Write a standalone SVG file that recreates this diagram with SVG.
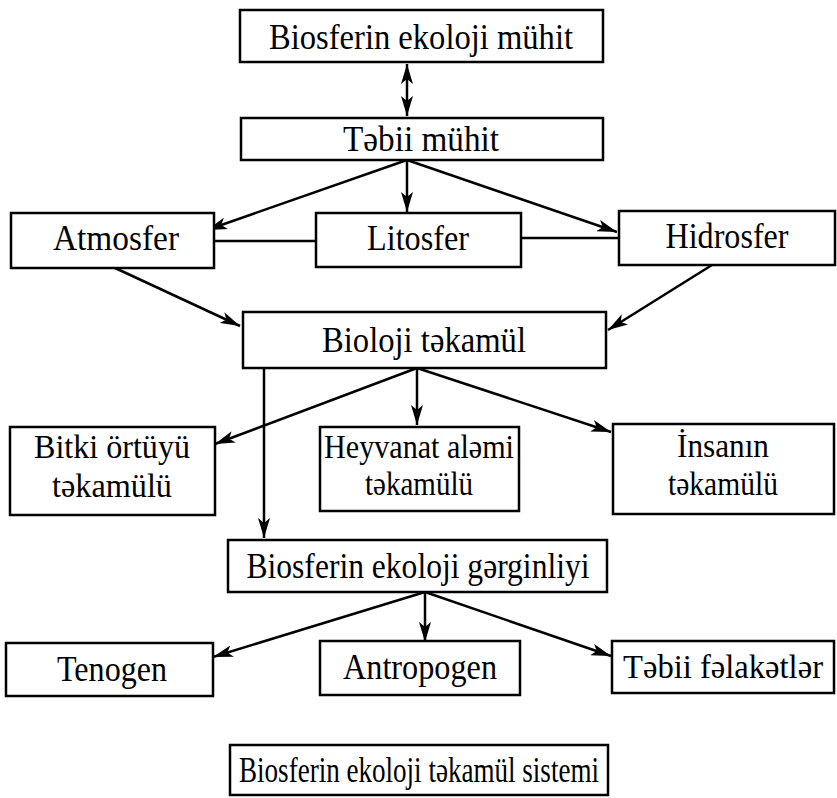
<svg xmlns="http://www.w3.org/2000/svg" width="837" height="798" viewBox="0 0 837 798">
<defs>
<marker id="ah" markerWidth="22" markerHeight="12" refX="20" refY="6" orient="auto" markerUnits="userSpaceOnUse">
<path d="M0,0 L20,6 L0,12 L5,6 Z" fill="#000"/>
</marker>
<marker id="ahs" markerWidth="22" markerHeight="12" refX="2" refY="6" orient="auto" markerUnits="userSpaceOnUse">
<path d="M22,0 L2,6 L22,12 L17,6 Z" fill="#000"/>
</marker>
</defs>
<style>
rect{fill:#fff;stroke:#000;stroke-width:2.5}
text{font-family:"Liberation Serif","Times New Roman",serif;font-size:36px;fill:#000;text-anchor:middle}
.two{font-size:33px}
.c line{stroke:#000;stroke-width:2.5;fill:none}
</style>
<rect x="0" y="0" width="837" height="798" style="stroke:none"/>
<g class="c" id="connectors">
<line x1="407" y1="64" x2="407" y2="116" marker-start="url(#ahs)" marker-end="url(#ah)"/>
<line x1="407" y1="160" x2="207" y2="230" marker-end="url(#ah)"/>
<line x1="407" y1="160" x2="407" y2="212" marker-end="url(#ah)"/>
<line x1="407" y1="160" x2="617" y2="232" marker-end="url(#ah)"/>
<line x1="215" y1="241" x2="316" y2="241"/>
<line x1="521" y1="238" x2="619" y2="238"/>
<line x1="113" y1="267" x2="240" y2="326" marker-end="url(#ah)"/>
<line x1="712" y1="265" x2="608" y2="330" marker-end="url(#ah)"/>
<line x1="417" y1="368" x2="215" y2="444" marker-end="url(#ah)"/>
<line x1="417" y1="368" x2="417" y2="425" marker-end="url(#ah)"/>
<line x1="417" y1="368" x2="611" y2="432" marker-end="url(#ah)"/>
<line x1="264" y1="368" x2="264" y2="538" marker-end="url(#ah)"/>
<line x1="425" y1="592" x2="213" y2="657" marker-end="url(#ah)"/>
<line x1="425" y1="592" x2="425" y2="642" marker-end="url(#ah)"/>
<line x1="425" y1="592" x2="611" y2="656" marker-end="url(#ah)"/>
</g>
<g id="n1"><rect x="240" y="10" width="363" height="52"/><text x="421" y="49" textLength="304" lengthAdjust="spacingAndGlyphs">Biosferin ekoloji mühit</text></g>
<g id="n2"><rect x="241" y="118" width="362" height="42"/><text x="421" y="151" textLength="156" lengthAdjust="spacingAndGlyphs">Təbii mühit</text></g>
<g id="n3"><rect x="11" y="213" width="203" height="55"/><text x="116" y="250" textLength="126" lengthAdjust="spacingAndGlyphs">Atmosfer</text></g>
<g id="n4"><rect x="316" y="213" width="205" height="54"/><text x="418" y="250" textLength="102" lengthAdjust="spacingAndGlyphs">Litosfer</text></g>
<g id="n5"><rect x="619" y="211" width="216" height="54"/><text x="727" y="248" textLength="123" lengthAdjust="spacingAndGlyphs">Hidrosfer</text></g>
<g id="n6"><rect x="243" y="312" width="363" height="56"/><text x="424" y="352" textLength="204" lengthAdjust="spacingAndGlyphs">Bioloji təkamül</text></g>
<g id="n7"><rect x="10" y="427" width="205" height="88"/><text class="two" x="112" y="458" textLength="156" lengthAdjust="spacingAndGlyphs">Bitki örtüyü</text><text class="two" x="112" y="497" textLength="120" lengthAdjust="spacingAndGlyphs">təkamülü</text></g>
<g id="n8"><rect x="320" y="427" width="199" height="84"/><text class="two" x="419" y="458" textLength="190" lengthAdjust="spacingAndGlyphs">Heyvanat aləmi</text><text class="two" x="419" y="495" textLength="108" lengthAdjust="spacingAndGlyphs">təkamülü</text></g>
<g id="n9"><rect x="613" y="424" width="221" height="90"/><text class="two" x="723" y="457" textLength="92" lengthAdjust="spacingAndGlyphs">İnsanın</text><text class="two" x="723" y="495" textLength="110" lengthAdjust="spacingAndGlyphs">təkamülü</text></g>
<g id="n10"><rect x="228" y="540" width="379" height="52"/><text x="418" y="578" textLength="343" lengthAdjust="spacingAndGlyphs">Biosferin ekoloji gərginliyi</text></g>
<g id="n11"><rect x="6" y="643" width="207" height="53"/><text x="112" y="681" textLength="110" lengthAdjust="spacingAndGlyphs">Tenogen</text></g>
<g id="n12"><rect x="320" y="641" width="200" height="54"/><text x="420" y="679" textLength="154" lengthAdjust="spacingAndGlyphs">Antropogen</text></g>
<g id="n13"><rect x="612" y="641" width="222" height="52"/><text x="723" y="678" textLength="200" lengthAdjust="spacingAndGlyphs" style="font-size:34px">Təbii fəlakətlər</text></g>
<g id="title"><rect x="230" y="745" width="378" height="50"/><text x="419" y="782" textLength="360" lengthAdjust="spacingAndGlyphs">Biosferin ekoloji təkamül sistemi</text></g>
</svg>
